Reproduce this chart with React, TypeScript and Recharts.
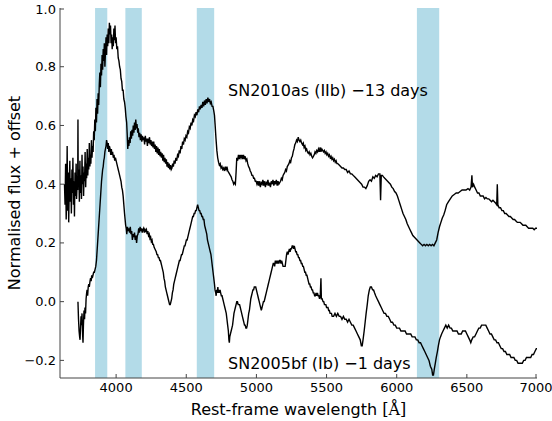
import React from 'react';
import { LineChart, Line, XAxis, YAxis, ReferenceArea, ReferenceDot } from 'recharts';

const xTicks = [4000, 4500, 5000, 5500, 6000, 6500, 7000];
const yTicks = [-0.2, 0, 0.2, 0.4, 0.6, 0.8, 1.0];
const bands: [number, number][] = [[3850, 3937], [4066, 4183], [4575, 4699], [6144, 6303]];

const sn2010as: [number, number][] = [
  [3632,0.40],[3636,0.33],[3640,0.47],[3644,0.28],[3648,0.36],[3651,0.53],[3655,0.31],[3659,0.44],[3662,0.27],[3666,0.39],
  [3670,0.48],[3673,0.34],[3677,0.42],[3681,0.30],[3685,0.45],[3688,0.37],[3692,0.49],[3696,0.33],[3700,0.41],[3703,0.29],
  [3707,0.44],[3711,0.36],[3715,0.47],[3718,0.35],[3722,0.40],[3726,0.38],[3728,0.62],[3730,0.39],[3734,0.45],[3738,0.34],
  [3742,0.48],[3745,0.37],[3749,0.43],[3753,0.35],[3757,0.50],[3760,0.40],[3764,0.46],[3768,0.36],[3772,0.44],[3775,0.41],
  [3779,0.51],[3783,0.39],[3787,0.47],[3790,0.42],[3794,0.52],[3798,0.43],[3802,0.49],[3805,0.45],[3809,0.54],[3813,0.46],
  [3817,0.50],[3820,0.47],[3824,0.55],[3828,0.49],[3832,0.53],[3836,0.51],[3840,0.58],[3844,0.55],[3848,0.62],[3852,0.58],
  [3856,0.66],[3860,0.61],[3864,0.69],[3868,0.64],[3872,0.71],[3876,0.67],[3880,0.74],[3884,0.78],[3888,0.73],[3892,0.81],
  [3896,0.77],[3900,0.84],[3904,0.79],[3908,0.86],[3912,0.82],[3916,0.88],[3920,0.80],[3924,0.85],[3928,0.90],[3932,0.84],
  [3936,0.91],[3940,0.87],[3944,0.93],[3948,0.88],[3952,0.95],[3956,0.91],[3960,0.94],[3964,0.88],[3968,0.91],[3972,0.86],
  [3976,0.90],[3980,0.87],[3984,0.93],[3988,0.89],[3992,0.94],[3996,0.88],[4000,0.90],[4005,0.86],[4010,0.87],[4015,0.83],
  [4020,0.82],[4025,0.80],[4030,0.79],[4035,0.76],[4040,0.75],[4045,0.72],[4050,0.72],[4055,0.69],[4060,0.68],[4065,0.66],
  [4070,0.63],[4075,0.61],[4079,0.57],[4083,0.52],[4087,0.55],[4091,0.53],[4095,0.56],[4100,0.54],[4104,0.58],[4109,0.555],
  [4113,0.585],[4118,0.565],[4122,0.60],[4127,0.575],[4131,0.61],[4136,0.585],[4140,0.62],[4145,0.59],[4149,0.605],[4154,0.575],
  [4158,0.59],[4163,0.56],[4168,0.575],[4173,0.55],[4178,0.57],[4183,0.545],[4188,0.565],[4193,0.55],[4198,0.56],[4203,0.535],
  [4208,0.565],[4213,0.545],[4218,0.555],[4223,0.53],[4228,0.555],[4233,0.54],[4238,0.56],[4243,0.535],[4248,0.55],[4253,0.53],
  [4258,0.545],[4263,0.525],[4268,0.545],[4273,0.52],[4278,0.535],[4283,0.51],[4288,0.53],[4293,0.505],[4298,0.525],[4303,0.50],
  [4308,0.52],[4313,0.495],[4318,0.51],[4323,0.49],[4328,0.505],[4333,0.48],[4338,0.50],[4343,0.475],[4348,0.49],[4353,0.47],
  [4358,0.485],[4363,0.46],[4368,0.475],[4373,0.455],[4378,0.47],[4383,0.45],[4388,0.465],[4393,0.45],[4398,0.455],[4403,0.47],
  [4408,0.46],[4414,0.48],[4420,0.47],[4426,0.49],[4432,0.48],[4438,0.50],[4444,0.495],[4450,0.515],[4456,0.505],[4462,0.53],
  [4468,0.52],[4474,0.545],[4480,0.535],[4486,0.555],[4492,0.55],[4498,0.565],[4504,0.56],[4510,0.58],[4516,0.575],[4522,0.595],
  [4528,0.59],[4534,0.61],[4540,0.60],[4546,0.62],[4552,0.615],[4558,0.635],[4564,0.63],[4570,0.645],[4576,0.635],[4582,0.655],
  [4588,0.645],[4594,0.665],[4600,0.655],[4606,0.67],[4612,0.66],[4618,0.68],[4624,0.665],[4630,0.685],[4636,0.67],[4642,0.69],
  [4648,0.675],[4654,0.695],[4660,0.68],[4666,0.69],[4672,0.675],[4678,0.68],[4684,0.665],[4690,0.665],[4696,0.65],[4701,0.635],
  [4706,0.60],[4712,0.555],[4718,0.515],[4724,0.49],[4730,0.475],[4736,0.465],[4742,0.47],[4748,0.455],[4754,0.46],[4760,0.45],
  [4766,0.455],[4772,0.445],[4778,0.46],[4784,0.45],[4790,0.46],[4796,0.445],[4802,0.44],[4808,0.435],[4814,0.43],[4820,0.425],
  [4826,0.415],[4832,0.41],[4838,0.40],[4844,0.405],[4850,0.40],[4855,0.44],[4860,0.49],[4866,0.48],[4872,0.50],[4878,0.485],
  [4884,0.50],[4890,0.49],[4896,0.50],[4902,0.485],[4908,0.50],[4914,0.485],[4920,0.495],[4926,0.48],[4932,0.485],[4938,0.47],
  [4944,0.46],[4950,0.455],[4956,0.445],[4962,0.44],[4968,0.43],[4974,0.43],[4980,0.42],[4986,0.42],[4992,0.41],[4998,0.41],
  [5004,0.40],[5010,0.41],[5016,0.395],[5022,0.41],[5028,0.39],[5034,0.405],[5040,0.40],[5046,0.415],[5052,0.395],[5058,0.41],
  [5064,0.39],[5070,0.405],[5076,0.40],[5082,0.415],[5088,0.395],[5094,0.405],[5100,0.39],[5106,0.41],[5112,0.40],[5118,0.415],
  [5124,0.395],[5130,0.41],[5136,0.40],[5142,0.415],[5148,0.395],[5154,0.41],[5160,0.40],[5166,0.405],[5172,0.41],[5178,0.42],
  [5184,0.415],[5190,0.43],[5196,0.435],[5202,0.44],[5208,0.45],[5214,0.445],[5220,0.46],[5226,0.465],[5232,0.47],[5238,0.48],
  [5244,0.475],[5250,0.49],[5256,0.495],[5262,0.51],[5268,0.52],[5274,0.535],[5280,0.54],[5286,0.55],[5292,0.545],[5298,0.56],
  [5304,0.55],[5310,0.545],[5316,0.55],[5322,0.54],[5328,0.535],[5334,0.54],[5340,0.525],[5346,0.53],[5352,0.515],[5358,0.52],
  [5364,0.51],[5370,0.505],[5376,0.51],[5382,0.50],[5388,0.505],[5394,0.495],[5400,0.49],[5406,0.495],[5412,0.50],[5418,0.51],
  [5424,0.505],[5430,0.515],[5436,0.51],[5442,0.52],[5448,0.51],[5454,0.525],[5460,0.51],[5466,0.52],[5472,0.515],[5478,0.51],
  [5484,0.515],[5490,0.505],[5496,0.51],[5502,0.50],[5508,0.505],[5514,0.495],[5520,0.50],[5526,0.49],[5532,0.495],[5538,0.485],
  [5544,0.49],[5550,0.48],[5556,0.485],[5562,0.475],[5568,0.48],[5574,0.47],[5580,0.47],[5590,0.465],[5600,0.46],[5610,0.455],
  [5620,0.455],[5630,0.45],[5640,0.45],[5650,0.44],[5660,0.445],[5670,0.435],[5680,0.435],[5690,0.43],[5700,0.425],[5710,0.42],
  [5720,0.415],[5730,0.41],[5740,0.405],[5750,0.40],[5760,0.39],[5770,0.39],[5780,0.385],[5790,0.395],[5800,0.41],[5810,0.415],
  [5820,0.41],[5830,0.425],[5840,0.42],[5850,0.43],[5860,0.425],[5870,0.435],[5880,0.435],[5885,0.345],[5890,0.43],[5898,0.43],
  [5906,0.425],[5915,0.42],[5925,0.415],[5935,0.41],[5945,0.405],[5955,0.40],[5965,0.39],[5975,0.385],[5985,0.375],[5995,0.37],
  [6005,0.36],[6015,0.345],[6025,0.33],[6035,0.315],[6045,0.30],[6055,0.29],[6065,0.28],[6075,0.265],[6085,0.255],[6095,0.245],
  [6105,0.235],[6115,0.225],[6125,0.22],[6135,0.215],[6145,0.21],[6155,0.205],[6165,0.20],[6175,0.195],[6185,0.19],[6195,0.195],
  [6205,0.19],[6215,0.195],[6225,0.19],[6235,0.195],[6245,0.19],[6255,0.195],[6265,0.19],[6275,0.20],[6285,0.21],[6295,0.235],
  [6305,0.255],[6315,0.27],[6325,0.285],[6335,0.295],[6345,0.31],[6356,0.33],[6368,0.34],[6382,0.35],[6396,0.36],[6410,0.365],
  [6424,0.37],[6438,0.37],[6452,0.375],[6466,0.38],[6480,0.38],[6494,0.38],[6508,0.385],[6520,0.38],[6530,0.39],[6536,0.43],
  [6540,0.39],[6548,0.40],[6556,0.39],[6566,0.38],[6576,0.37],[6586,0.37],[6596,0.36],[6606,0.36],[6616,0.36],[6626,0.35],
  [6636,0.355],[6646,0.35],[6656,0.35],[6666,0.345],[6676,0.34],[6686,0.345],[6696,0.34],[6706,0.335],[6713,0.33],[6717,0.40],
  [6721,0.33],[6730,0.32],[6740,0.32],[6750,0.31],[6760,0.31],[6770,0.30],[6780,0.30],[6790,0.295],[6800,0.29],[6810,0.29],
  [6820,0.285],[6830,0.28],[6840,0.28],[6850,0.275],[6860,0.27],[6870,0.27],[6880,0.27],[6890,0.265],[6900,0.26],[6910,0.26],
  [6920,0.26],[6930,0.255],[6940,0.25],[6950,0.25],[6960,0.25],[6970,0.25],[6980,0.245],[6990,0.25],[7000,0.25],
];

const sn2005bf: [number, number][] = [
  [3728,0.00],[3732,-0.06],[3736,-0.10],[3740,-0.12],[3743,-0.13],[3746,-0.09],[3750,-0.05],[3753,-0.08],[3757,-0.04],[3760,-0.10],
  [3764,-0.14],[3767,-0.08],[3771,-0.03],[3775,-0.06],[3778,-0.02],[3782,-0.04],[3786,0.01],[3790,0.03],[3793,0.04],[3797,0.02],
  [3801,0.05],[3805,0.06],[3809,0.05],[3814,0.07],[3818,0.08],[3822,0.07],[3826,0.09],[3830,0.08],[3835,0.09],[3840,0.10],
  [3845,0.10],[3850,0.11],[3855,0.12],[3860,0.14],[3864,0.17],[3868,0.20],[3872,0.23],[3876,0.26],[3880,0.29],[3884,0.32],
  [3888,0.35],[3892,0.38],[3896,0.41],[3900,0.43],[3904,0.45],[3908,0.46],[3912,0.48],[3916,0.49],[3920,0.51],[3924,0.52],
  [3928,0.53],[3932,0.55],[3936,0.54],[3940,0.52],[3944,0.54],[3948,0.51],[3952,0.53],[3957,0.52],[3962,0.50],[3966,0.52],
  [3970,0.50],[3975,0.51],[3980,0.49],[3985,0.50],[3990,0.48],[3995,0.49],[4000,0.48],[4005,0.47],[4010,0.46],[4015,0.45],
  [4020,0.44],[4025,0.43],[4030,0.42],[4035,0.41],[4040,0.39],[4045,0.38],[4050,0.36],[4055,0.33],[4060,0.30],[4064,0.28],
  [4068,0.26],[4072,0.25],[4076,0.23],[4081,0.255],[4086,0.24],[4091,0.25],[4096,0.235],[4101,0.255],[4106,0.23],[4111,0.24],
  [4116,0.21],[4121,0.23],[4126,0.22],[4131,0.235],[4136,0.21],[4141,0.225],[4146,0.20],[4151,0.225],[4156,0.23],[4161,0.25],
  [4166,0.235],[4171,0.255],[4176,0.24],[4181,0.25],[4186,0.235],[4191,0.245],[4196,0.25],[4201,0.235],[4206,0.245],[4211,0.24],
  [4216,0.245],[4221,0.23],[4226,0.24],[4231,0.225],[4236,0.23],[4241,0.215],[4246,0.22],[4251,0.205],[4256,0.21],[4261,0.195],
  [4266,0.195],[4271,0.185],[4276,0.18],[4281,0.175],[4286,0.17],[4291,0.16],[4296,0.16],[4301,0.15],[4306,0.15],[4311,0.14],
  [4316,0.14],[4321,0.13],[4326,0.12],[4331,0.11],[4336,0.10],[4341,0.08],[4346,0.07],[4351,0.05],[4356,0.04],[4361,0.03],
  [4366,0.02],[4371,0.01],[4376,0.00],[4381,-0.01],[4386,-0.01],[4391,0.00],[4396,0.01],[4401,0.03],[4406,0.04],[4411,0.06],
  [4416,0.07],[4421,0.08],[4426,0.09],[4431,0.10],[4436,0.11],[4441,0.12],[4446,0.13],[4451,0.14],[4456,0.14],[4461,0.15],
  [4466,0.16],[4471,0.16],[4476,0.17],[4481,0.18],[4486,0.19],[4491,0.19],[4496,0.20],[4501,0.21],[4506,0.21],[4511,0.22],
  [4516,0.23],[4521,0.24],[4526,0.25],[4531,0.26],[4536,0.27],[4541,0.28],[4546,0.29],[4551,0.29],[4556,0.30],[4561,0.30],
  [4566,0.31],[4571,0.31],[4576,0.32],[4581,0.33],[4586,0.32],[4591,0.31],[4596,0.31],[4601,0.30],[4606,0.30],[4611,0.29],
  [4616,0.29],[4621,0.28],[4626,0.28],[4631,0.26],[4636,0.25],[4641,0.24],[4646,0.23],[4651,0.21],[4656,0.20],[4661,0.19],
  [4666,0.18],[4671,0.17],[4676,0.16],[4681,0.14],[4686,0.12],[4691,0.10],[4696,0.08],[4701,0.06],[4705,0.04],[4710,0.03],
  [4713,0.02],[4717,0.04],[4721,0.03],[4725,0.05],[4729,0.03],[4733,0.04],[4737,0.03],[4741,0.04],[4745,0.03],[4750,0.02],
  [4755,0.02],[4760,0.01],[4765,0.00],[4770,-0.01],[4775,-0.02],[4780,-0.03],[4785,-0.04],[4790,-0.06],[4795,-0.08],[4800,-0.10],
  [4804,-0.13],[4807,-0.14],[4810,-0.12],[4815,-0.11],[4820,-0.10],[4825,-0.09],[4830,-0.08],[4835,-0.06],[4840,-0.04],[4845,-0.03],
  [4850,-0.02],[4855,-0.01],[4860,0.00],[4865,0.00],[4870,-0.01],[4875,-0.01],[4880,-0.01],[4885,-0.02],[4890,-0.03],[4895,-0.04],
  [4900,-0.05],[4905,-0.06],[4910,-0.07],[4915,-0.08],[4920,-0.08],[4925,-0.09],[4930,-0.09],[4935,-0.08],[4940,-0.06],[4945,-0.04],
  [4950,-0.03],[4955,-0.01],[4960,0.01],[4965,0.02],[4970,0.03],[4975,0.04],[4980,0.04],[4985,0.05],[4990,0.05],[4995,0.05],
  [5000,0.04],[5005,0.03],[5010,0.02],[5015,0.01],[5020,0.00],[5025,-0.01],[5030,-0.02],[5035,-0.03],[5040,-0.02],[5045,-0.01],
  [5050,0.00],[5055,0.00],[5060,0.01],[5065,0.02],[5070,0.03],[5075,0.04],[5080,0.05],[5085,0.06],[5090,0.07],[5095,0.08],
  [5100,0.09],[5105,0.10],[5110,0.11],[5115,0.12],[5120,0.13],[5125,0.13],[5130,0.12],[5135,0.14],[5140,0.13],[5145,0.14],
  [5150,0.13],[5155,0.14],[5160,0.13],[5165,0.14],[5170,0.14],[5175,0.13],[5180,0.14],[5185,0.13],[5190,0.12],[5195,0.12],
  [5200,0.12],[5205,0.12],[5210,0.14],[5215,0.16],[5220,0.17],[5225,0.16],[5230,0.17],[5235,0.18],[5240,0.17],[5245,0.18],
  [5250,0.18],[5255,0.19],[5260,0.19],[5265,0.18],[5270,0.19],[5275,0.18],[5280,0.17],[5285,0.17],[5290,0.16],[5295,0.16],
  [5300,0.15],[5305,0.15],[5310,0.14],[5315,0.14],[5320,0.13],[5325,0.13],[5330,0.12],[5335,0.12],[5340,0.11],[5345,0.10],
  [5350,0.10],[5355,0.09],[5360,0.09],[5365,0.08],[5370,0.07],[5375,0.06],[5380,0.06],[5385,0.05],[5390,0.05],[5395,0.04],
  [5400,0.04],[5405,0.03],[5410,0.03],[5415,0.02],[5420,0.02],[5425,0.03],[5430,0.02],[5435,0.03],[5440,0.02],[5445,0.02],
  [5450,0.01],[5455,0.02],[5460,0.08],[5463,0.01],[5468,0.01],[5475,0.00],[5480,0.00],[5485,-0.01],[5490,-0.01],[5495,-0.01],
  [5500,-0.02],[5505,-0.02],[5510,-0.02],[5515,-0.03],[5520,-0.03],[5525,-0.04],[5530,-0.04],[5535,-0.04],[5540,-0.05],[5550,-0.05],
  [5560,-0.04],[5570,-0.05],[5580,-0.04],[5590,-0.05],[5600,-0.05],[5610,-0.06],[5620,-0.05],[5630,-0.06],[5640,-0.06],[5650,-0.07],
  [5660,-0.06],[5670,-0.07],[5680,-0.08],[5690,-0.08],[5700,-0.09],[5710,-0.10],[5720,-0.11],[5730,-0.12],[5740,-0.13],[5748,-0.15],
  [5754,-0.15],[5760,-0.13],[5768,-0.10],[5775,-0.07],[5782,-0.04],[5790,-0.01],[5797,0.02],[5805,0.04],[5812,0.05],[5820,0.05],
  [5828,0.04],[5835,0.04],[5842,0.03],[5850,0.02],[5860,0.01],[5870,0.00],[5880,-0.01],[5890,-0.02],[5900,-0.03],[5910,-0.04],
  [5920,-0.04],[5930,-0.05],[5940,-0.05],[5950,-0.06],[5960,-0.07],[5970,-0.07],[5980,-0.08],[5990,-0.08],[6000,-0.09],[6010,-0.09],
  [6020,-0.09],[6030,-0.10],[6040,-0.10],[6050,-0.10],[6060,-0.10],[6070,-0.11],[6080,-0.11],[6090,-0.11],[6100,-0.11],[6110,-0.12],
  [6120,-0.12],[6130,-0.12],[6140,-0.13],[6150,-0.13],[6160,-0.14],[6170,-0.14],[6180,-0.15],[6190,-0.16],[6200,-0.17],[6210,-0.18],
  [6220,-0.19],[6230,-0.20],[6240,-0.22],[6250,-0.23],[6256,-0.25],[6262,-0.25],[6268,-0.23],[6275,-0.21],[6282,-0.19],[6290,-0.17],
  [6297,-0.15],[6305,-0.13],[6312,-0.12],[6320,-0.11],[6330,-0.10],[6340,-0.09],[6350,-0.08],[6360,-0.09],[6370,-0.08],[6380,-0.09],
  [6390,-0.09],[6400,-0.10],[6410,-0.10],[6420,-0.10],[6430,-0.10],[6440,-0.11],[6450,-0.11],[6460,-0.11],[6470,-0.10],[6480,-0.10],
  [6490,-0.10],[6500,-0.11],[6510,-0.12],[6520,-0.13],[6528,-0.14],[6535,-0.13],[6545,-0.12],[6555,-0.12],[6565,-0.11],[6575,-0.10],
  [6585,-0.09],[6595,-0.09],[6605,-0.08],[6615,-0.08],[6625,-0.08],[6635,-0.08],[6645,-0.09],[6655,-0.10],[6665,-0.11],[6675,-0.11],
  [6685,-0.12],[6695,-0.13],[6705,-0.13],[6715,-0.14],[6725,-0.14],[6735,-0.15],[6745,-0.16],[6755,-0.16],[6765,-0.17],[6775,-0.17],
  [6785,-0.18],[6795,-0.18],[6805,-0.18],[6815,-0.19],[6825,-0.19],[6835,-0.19],[6845,-0.20],[6855,-0.20],[6865,-0.21],[6875,-0.21],
  [6885,-0.21],[6895,-0.21],[6905,-0.20],[6915,-0.20],[6925,-0.19],[6935,-0.19],[6945,-0.19],[6955,-0.19],[6965,-0.18],[6975,-0.18],
  [6985,-0.17],[6995,-0.16],[7000,-0.16],
];

const upperData = sn2010as.map(([w, f]) => ({ w, f }));
const lowerData = sn2005bf.map(([w, f]) => ({ w, f }));

const W = 552;
const H = 421;
const AX = '#444';
const FONT = '"DejaVu Sans", sans-serif';
const BAND = '#b3dbe8';

const fmtY = (v: number) => (v < 0 ? '\u2212' + Math.abs(v).toFixed(1) : v.toFixed(1));

const BottomTick = (p: any) => (
  <g>
    <line x1={p.x} y1={p.y} x2={p.x} y2={p.y - 4} stroke={AX} strokeWidth={1} />
    <text x={p.x} y={p.y + 14} textAnchor="middle" fontSize={13} fontFamily={FONT} fill="#000">
      {p.payload.value}
    </text>
  </g>
);
const TopTick = (p: any) => (
  <line x1={p.x} y1={p.y} x2={p.x} y2={p.y + 4} stroke={AX} strokeWidth={1} />
);
const LeftTick = (p: any) => (
  <g>
    <line x1={p.x} y1={p.y} x2={p.x + 4} y2={p.y} stroke={AX} strokeWidth={1} />
    <text x={p.x - 4} y={p.y + 4.5} textAnchor="end" fontSize={13} fontFamily={FONT} fill="#000">
      {fmtY(p.payload.value)}
    </text>
  </g>
);
const RightTick = (p: any) => (
  <line x1={p.x} y1={p.y} x2={p.x - 4} y2={p.y} stroke={AX} strokeWidth={1} />
);

const annot = (txt: string) => (props: any) => {
  const vb = props.viewBox || {};
  return (
    <text x={vb.x} y={(vb.y ?? 0) + 5.5} fontSize={16} fontFamily={FONT} fill="#000">
      {txt}
    </text>
  );
};

export default function App() {
  return (
    <div style={{ position: 'absolute', left: 0, top: 0, width: W, height: H, background: '#fff' }}>
      <LineChart width={W} height={H} margin={{ top: 8, right: 15, bottom: 0, left: 0 }}>
        <XAxis
          xAxisId="b"
          dataKey="w"
          type="number"
          domain={[3600, 7000]}
          ticks={xTicks}
          allowDataOverflow
          height={43}
          tickSize={0}
          tickMargin={0}
          tickLine={false}
          tick={BottomTick}
          axisLine={{ stroke: AX, strokeWidth: 1 }}
        />
        <XAxis
          xAxisId="t"
          orientation="top"
          dataKey="w"
          type="number"
          domain={[3600, 7000]}
          ticks={xTicks}
          allowDataOverflow
          height={0}
          tickSize={0}
          tickMargin={0}
          tickLine={false}
          tick={TopTick}
          axisLine={{ stroke: AX, strokeWidth: 1 }}
        />
        <YAxis
          yAxisId="l"
          type="number"
          domain={[-0.26, 1.0]}
          ticks={yTicks}
          allowDataOverflow
          width={60}
          tickSize={0}
          tickMargin={0}
          tickLine={false}
          tick={LeftTick}
          axisLine={{ stroke: AX, strokeWidth: 1 }}
        />
        <YAxis
          yAxisId="r"
          orientation="right"
          type="number"
          domain={[-0.26, 1.0]}
          ticks={yTicks}
          allowDataOverflow
          width={0}
          tickSize={0}
          tickMargin={0}
          tickLine={false}
          tick={RightTick}
          axisLine={{ stroke: AX, strokeWidth: 1 }}
        />
        {bands.map(([a, b], i) => (
          <ReferenceArea
            key={i}
            xAxisId="b"
            yAxisId="l"
            x1={a}
            x2={b}
            y1={-0.26}
            y2={1.0}
            fill={BAND}
            fillOpacity={1}
            stroke="none"
            ifOverflow="hidden"
          />
        ))}
        <Line
          xAxisId="b"
          yAxisId="l"
          data={upperData}
          dataKey="f"
          type="linear"
          stroke="#000"
          strokeWidth={1.4}
          dot={false}
          activeDot={false}
          isAnimationActive={false}
        />
        <Line
          xAxisId="b"
          yAxisId="l"
          data={lowerData}
          dataKey="f"
          type="linear"
          stroke="#000"
          strokeWidth={1.4}
          dot={false}
          activeDot={false}
          isAnimationActive={false}
        />
        <ReferenceDot xAxisId="b" yAxisId="l" x={4798} y={0.72} r={0} fill="none" stroke="none" label={annot('SN2010as (IIb) \u221213 days')} />
        <ReferenceDot xAxisId="b" yAxisId="l" x={4798} y={-0.21} r={0} fill="none" stroke="none" label={annot('SN2005bf (Ib) \u22121 days')} />
      </LineChart>
      <svg width={W} height={H} style={{ position: 'absolute', left: 0, top: 0, pointerEvents: 'none' }}>
        <text x={298.5} y={415} textAnchor="middle" fontSize={16} fontFamily={FONT} fill="#000">
          Rest-frame wavelength <tspan fontFamily='"DejaVu Serif", serif'>[Å]</tspan>
        </text>
        <text
          transform="translate(20,193) rotate(-90)"
          x={0}
          y={0}
          textAnchor="middle"
          fontSize={16}
          fontFamily={FONT}
          fill="#000"
        >
          Normalised flux + offset
        </text>
      </svg>
    </div>
  );
}
